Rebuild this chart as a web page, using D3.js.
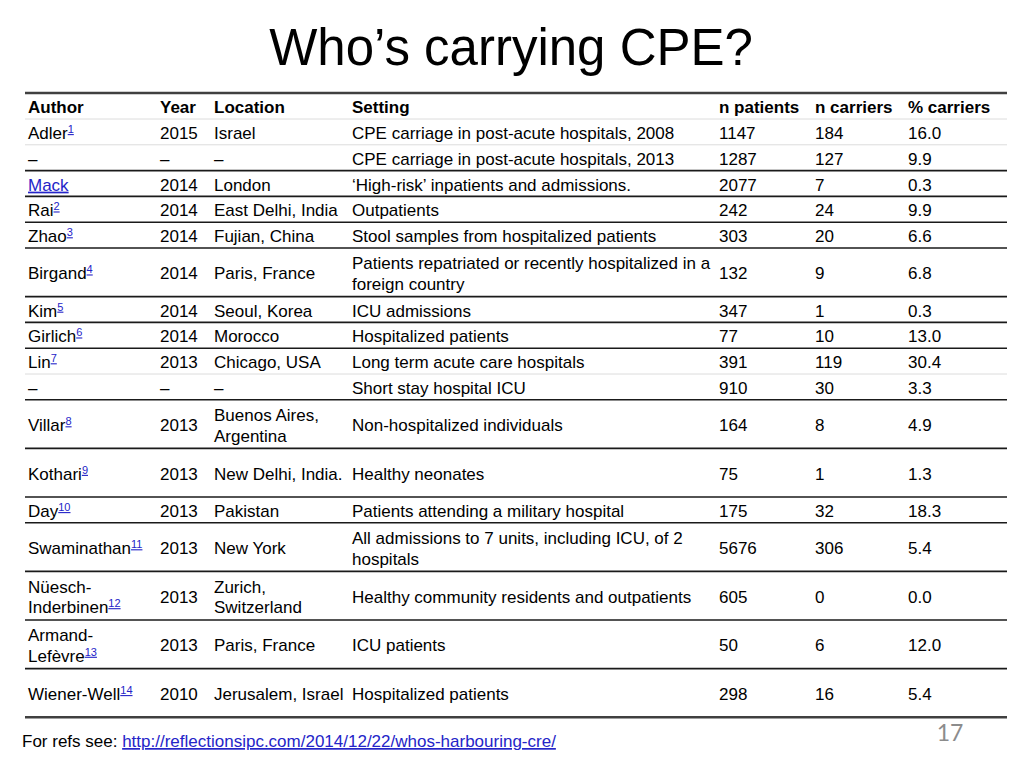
<!DOCTYPE html>
<html>
<head>
<meta charset="utf-8">
<script src="https://cdn.jsdelivr.net/npm/d3@7"></script>
<style>
  html, body { margin: 0; padding: 0; background: #fff; }
  svg text { font-family: "Liberation Sans", Arial, sans-serif; }
</style>
</head>
<body>
<svg id="chart" width="1024" height="768"></svg>
<script>
// ---------------- DATA ----------------
const title = "Who\u2019s carrying CPE?";
const headers = ["Author", "Year", "Location", "Setting", "n patients", "n carriers", "% carriers"];
const authors = ["Adler", "\u2013", "Mack", "Rai", "Zhao", "Birgand", "Kim", "Girlich", "Lin", "\u2013",
  "Villar", "Kothari", "Day", "Swaminathan", "N\u00fcesch-\nInderbinen", "Armand-\nLef\u00e8vre", "Wiener-Well"];
const refs = ["1", "", "", "2", "3", "4", "5", "6", "7", "", "8", "9", "10", "11", "12", "13", "14"];
const authorIsLink = [false, false, true, false, false, false, false, false, false, false,
  false, false, false, false, false, false, false];
const years = ["2015", "\u2013", "2014", "2014", "2014", "2014", "2014", "2014", "2013", "\u2013",
  "2013", "2013", "2013", "2013", "2013", "2013", "2010"];
const locations = ["Israel", "\u2013", "London", "East Delhi, India", "Fujian, China", "Paris, France",
  "Seoul, Korea", "Morocco", "Chicago, USA", "\u2013", "Buenos Aires,\nArgentina", "New Delhi, India.",
  "Pakistan", "New York", "Zurich,\nSwitzerland", "Paris, France", "Jerusalem, Israel"];
const settings = [
  "CPE carriage in post-acute hospitals, 2008",
  "CPE carriage in post-acute hospitals, 2013",
  "\u2018High-risk\u2019 inpatients and admissions.",
  "Outpatients",
  "Stool samples from hospitalized patients",
  "Patients repatriated or recently hospitalized in a\nforeign country",
  "ICU admissions",
  "Hospitalized patients",
  "Long term acute care hospitals",
  "Short stay hospital ICU",
  "Non-hospitalized individuals",
  "Healthy neonates",
  "Patients attending a military hospital",
  "All admissions to 7 units, including ICU, of 2\nhospitals",
  "Healthy community residents and outpatients",
  "ICU patients",
  "Hospitalized patients"
];
const nPatients = [1147, 1287, 2077, 242, 303, 132, 347, 77, 391, 910, 164, 75, 175, 5676, 605, 50, 298];
const nCarriers = [184, 127, 7, 24, 20, 9, 1, 10, 119, 30, 8, 1, 32, 306, 0, 6, 16];
const pctCarriers = [16.0, 9.9, 0.3, 9.9, 6.6, 6.8, 0.3, 13.0, 30.4, 3.3, 4.9, 1.3, 18.3, 5.4, 0.0, 12.0, 5.4];
const footerLabel = "For refs see: ";
const footerLink = "http://reflectionsipc.com/2014/12/22/whos-harbouring-cre/";
const pageNumber = "17";

// ---------------- LAYOUT ----------------
const svg = d3.select("#chart");
const linkColor = "#2424c8";
const fontSize = 17;
const lineGap = 20.6;
const textShift = 1.2;
const tableLeft = 25, tableRight = 1007;
const tallAuthors = new Set(["Kothari", "Wiener-Well"]); // rows drawn with double height

const rows = authors.map((a, i) => ({
  cells: [a, years[i], locations[i], settings[i],
    String(nPatients[i]), String(nCarriers[i]), d3.format(".1f")(pctCarriers[i])],
  ref: refs[i], link: authorIsLink[i],
  cont: i + 1 < authors.length && authors[i + 1] === "\u2013"
}));
rows.forEach(r => {
  const n = d3.max(r.cells, c => c.split("\n").length);
  r.units = (n > 1 || tallAuthors.has(r.cells[0])) ? 2 : 1;
});

const singleH = 25.8, doubleH = 48.6;
const headerTop = 93, headerH = 26;
let acc = headerTop + headerH;
rows.forEach(r => { r.y0 = acc; r.h = r.units === 2 ? doubleH : singleH; acc += r.h; r.y1 = acc; });

const colX = d3.scaleOrdinal().domain(d3.range(7)).range([28, 160, 214, 352, 719, 815, 908]);

// Title
svg.append("text").attr("x", 511).attr("y", 65).attr("text-anchor", "middle")
  .attr("font-size", 51).attr("fill", "#000").text(title);

// Header
svg.append("g").selectAll("text").data(headers).join("text")
  .attr("x", (d, i) => colX(i)).attr("y", headerTop + headerH / 2 + textShift).attr("dy", "0.35em")
  .attr("font-size", fontSize).attr("font-weight", "bold").attr("fill", "#000").text(d => d);

// Lines
const lines = [{ y: headerTop, type: "edge" }, { y: headerTop + headerH, type: "light" }];
rows.forEach((r, i) => lines.push({ y: r.y1, type: i === rows.length - 1 ? "edge" : (r.cont ? "light" : "dark") }));
svg.append("g").selectAll("line").data(lines).join("line")
  .attr("x1", tableLeft).attr("x2", tableRight).attr("y1", d => d.y).attr("y2", d => d.y)
  .attr("stroke", d => d.type === "light" ? "#dcdcdc" : (d.type === "edge" ? "#404040" : "#1a1a1a"))
  .attr("stroke-width", d => d.type === "light" ? 1 : (d.type === "edge" ? 2.5 : 1.6));

// Cells
const rowG = svg.append("g").selectAll("g").data(rows).join("g");
rowG.each(function (r) {
  const g = d3.select(this);
  const cy = r.y0 + r.h / 2 + textShift;
  r.cells.forEach((c, ci) => {
    const parts = c.split("\n");
    parts.forEach((p, pi) => {
      const y = cy + (pi - (parts.length - 1) / 2) * lineGap;
      const t = g.append("text").attr("x", colX(ci)).attr("y", y).attr("dy", "0.35em")
        .attr("font-size", fontSize).attr("fill", "#000");
      const main = t.append("tspan").text(p);
      if (ci === 0 && r.link) {
        main.attr("fill", linkColor).style("text-decoration", "underline");
      }
      if (ci === 0 && r.ref && pi === parts.length - 1) {
        t.append("tspan").attr("dy", -6).attr("font-size", 11).attr("fill", linkColor)
          .style("text-decoration", "underline").text(r.ref);
      }
    });
  });
});

// Footer
const foot = svg.append("text").attr("x", 22).attr("y", 747).attr("font-size", fontSize).attr("fill", "#000");
foot.append("tspan").text(footerLabel);
foot.append("tspan").attr("fill", linkColor).style("text-decoration", "underline").text(footerLink);

svg.append("text").attr("x", 950).attr("y", 741).attr("text-anchor", "middle")
  .style("font-family", "Lato, sans-serif")
  .attr("font-size", 23).attr("fill", "#8c8c8c").text(pageNumber);
</script>
</body>
</html>
